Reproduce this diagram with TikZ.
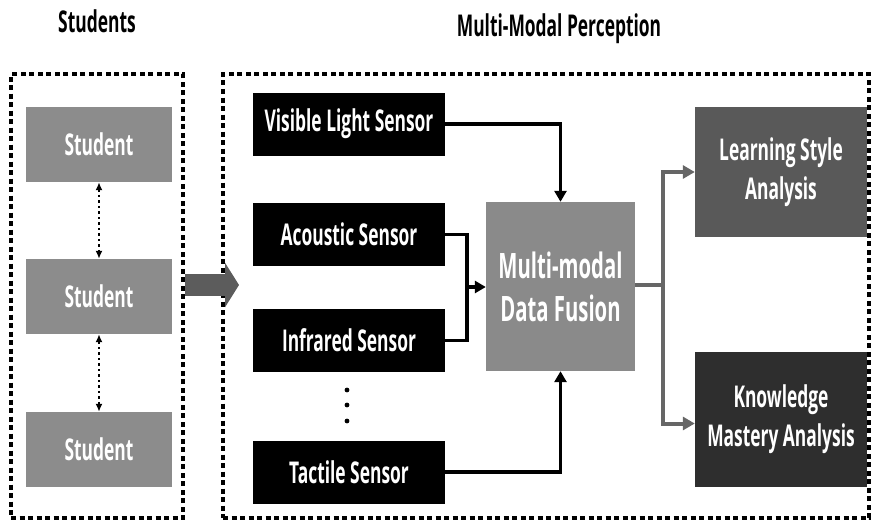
\documentclass[tikz,border=0pt]{standalone}
\usepackage{fontspec}
\setmainfont{Open Sans}[FakeStretch=0.58]
\usetikzlibrary{arrows.meta}
\definecolor{stugray}{HTML}{8C8C8C}
\definecolor{fusgray}{HTML}{8A8A8A}
\definecolor{lsagray}{HTML}{595959}
\definecolor{kmagray}{HTML}{2E2E2E}
\definecolor{outgray}{HTML}{666666}
\definecolor{biggray}{HTML}{5C5C5C}
\tikzset{
  frame/.style={draw=black, line width=3.4pt, dash pattern=on 5pt off 3.5pt, minimum width=#1, inner sep=0pt},
  stubox/.style={fill=stugray, text=white, minimum width=146pt, minimum height=75pt, inner sep=0pt, font=\bfseries\fontsize{30}{34}\selectfont},
  senbox/.style={fill=black, text=white, minimum width=192pt, minimum height=63pt, inner sep=0pt, font=\bfseries\fontsize{30}{34}\selectfont},
  fusbox/.style={fill=fusgray, text=white, minimum width=149pt, minimum height=169pt, inner sep=0pt, align=center, font=\bfseries\fontsize{35}{43}\selectfont},
  anabox/.style={fill=#1, text=white, minimum width=172pt, inner sep=0pt, align=center, font=\bfseries\fontsize{30}{39}\selectfont},
  title/.style={font=\bfseries\fontsize{30}{34}\selectfont, anchor=base},
  dotarrow/.style={line width=2pt, dash pattern=on 2.5pt off 3pt, {Latex[length=8pt,width=7pt]}-{Latex[length=8pt,width=7pt]}},
  senarrow/.style={line width=3.4pt, -{Triangle[length=11pt,width=12pt]}},
  outarrow/.style={draw=outgray, line width=4pt, -{Triangle[length=12pt,width=13pt]}},
}
\begin{document}
\begin{tikzpicture}[x=1pt,y=-1pt]
\useasboundingbox (0,0) rectangle (874,527);
% titles
\node[title] (t1) at (97,33) {Students};
\node[title] (t2) at (559,37) {Multi-Modal Perception};
% frames
\node[frame=172pt, minimum height=444pt] (lframe) at (97,296) {};
\node[frame=646pt, minimum height=444pt] (rframe) at (546,296) {};
% students
\node[stubox] (s1) at (99,144.5) {Student};
\node[stubox] (s2) at (99,296.5) {Student};
\node[stubox] (s3) at (99,449.5) {Student};
\draw[dotarrow] (s1.south) -- (s2.north);
\draw[dotarrow] (s2.south) -- (s3.north);
% big arrow
\coordinate (bigtip) at (239,285);
\draw[draw=biggray, line width=22pt, -{Triangle[length=14pt,width=44pt]}] (lframe.east |- bigtip) -- (bigtip);
% sensors
\node[senbox] (vis) at (349,124) {Visible Light Sensor};
\node[senbox] (aco) at (349,234.5) {Acoustic Sensor};
\node[senbox] (inf) at (349,340.5) {Infrared Sensor};
\node[senbox] (tac) at (349,472) {Tactile Sensor};
\foreach \yy/\nm in {390/d1,405/d2,421/d3}{\fill (347,\yy) circle (2.4pt) coordinate (\nm);}
% fusion
\node[fusbox] (fus) at (560.5,286.5) {Multi-modal\\Data Fusion};
\coordinate (join) at (467,287);
\draw[line width=3.4pt] (aco.east) -| (join);
\draw[line width=3.4pt] (inf.east) -| (join);
\draw[senarrow] (join) -- (fus.west |- join);
\draw[senarrow] (vis.east) -| (fus.north);
\draw[senarrow] (tac.east) -| (fus.south);
% analyses
\node[anabox=lsagray, minimum height=130pt] (lsa) at (781,172) {Learning Style\\Analysis};
\node[anabox=kmagray, minimum height=135pt] (kma) at (781,419.5) {Knowledge\\Mastery Analysis};
\coordinate (split) at (663,285);
\draw[draw=outgray, line width=4pt] (fus.east |- split) -- (split);
\draw[outarrow] (split) |- (lsa.west);
\draw[outarrow] (split) |- ([yshift=-4pt]kma.west);
\end{tikzpicture}
\end{document}
